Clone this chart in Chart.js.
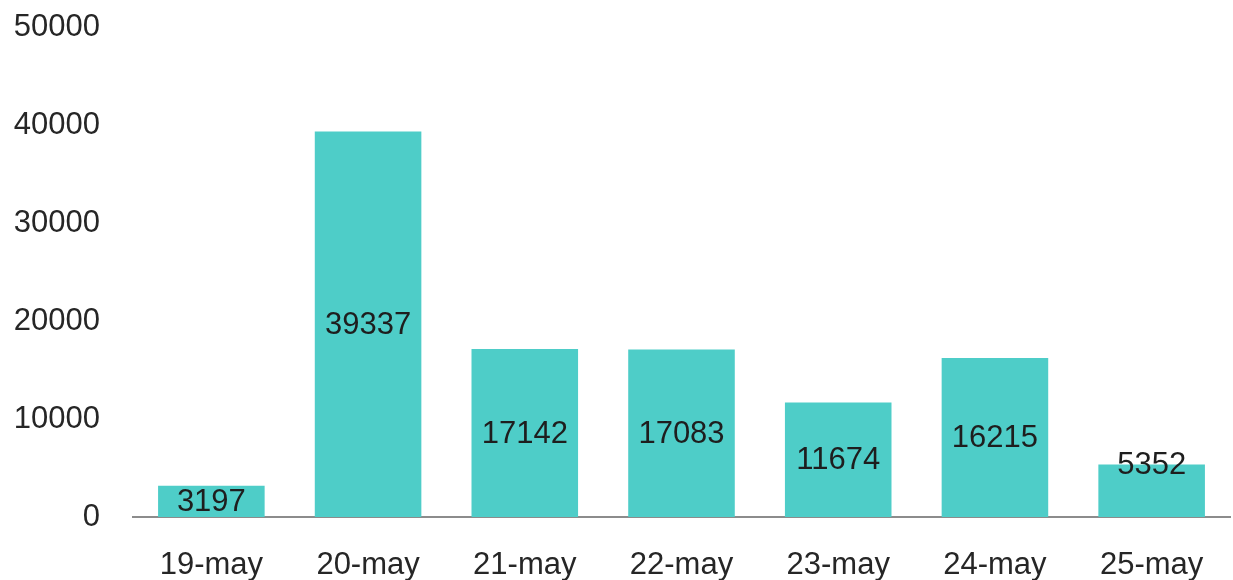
<!DOCTYPE html>
<html>
<head>
<meta charset="utf-8">
<script src="https://cdn.jsdelivr.net/npm/chart.js@4/dist/chart.umd.min.js"></script>
<style>
  body { margin: 0; background: #fff; }
  #wrap { width: 1233px; height: 580px; }
</style>
</head>
<body>
<div id="wrap"><canvas id="chart"></canvas></div>
<script>
const days = ["19-may", "20-may", "21-may", "22-may", "23-may", "24-may", "25-may"];
const counts = [3197, 39337, 17142, 17083, 11674, 16215, 5352];
const yTicks = [0, 10000, 20000, 30000, 40000, 50000];

const FONT = "'Liberation Sans', Arial, sans-serif";

// value labels, centered in the bar (last one sits on the bar top)
const barLabels = {
  id: "barLabels",
  afterDatasetsDraw(chart) {
    const ctx = chart.ctx;
    const meta = chart.getDatasetMeta(0);
    ctx.save();
    ctx.font = "31px " + FONT;
    ctx.fillStyle = "#1e1e1e";
    ctx.textAlign = "center";
    ctx.textBaseline = "middle";
    meta.data.forEach((bar, i) => {
      let y = (bar.y + bar.base) / 2;
      if (i === meta.data.length - 1) y = bar.y;
      ctx.fillText(String(counts[i]), bar.x, y + 1);
    });
    ctx.restore();
  },
};

new Chart(document.getElementById("chart"), {
  type: "bar",
  data: {
    labels: days,
    datasets: [
      {
        data: counts,
        backgroundColor: "#4ecdc8",
        categoryPercentage: 1,
        barPercentage: 0.68,
      },
    ],
  },
  options: {
    responsive: true,
    maintainAspectRatio: false,
    animation: false,
    devicePixelRatio: 1,
    layout: { padding: { top: 27, right: 3, left: 0, bottom: 0 } },
    plugins: {
      legend: { display: false },
      tooltip: { enabled: false },
    },
    scales: {
      x: {
        grid: { display: false, drawTicks: false },
        border: { display: true, color: "#8c8c8c", width: 2 },
        ticks: {
          color: "#262626",
          font: { family: FONT, size: 31 },
          padding: 30,
          maxRotation: 0,
        },
        afterFit: (scale) => {
          scale.height = 63;
          scale.paddingLeft = 0;
          scale.paddingRight = 0;
        },
      },
      y: {
        min: 0,
        max: 50000,
        grid: { display: false, drawTicks: false },
        border: { display: false },
        afterBuildTicks: (scale) => {
          scale.ticks = yTicks.map((v) => ({ value: v }));
        },
        ticks: {
          color: "#262626",
          font: { family: FONT, size: 31 },
          padding: 33,
          callback: (v) => String(v),
        },
        afterFit: (scale) => {
          scale.width = 133;
          scale.paddingTop = 0;
          scale.paddingBottom = 0;
        },
      },
    },
  },
  plugins: [barLabels],
});
</script>
</body>
</html>
